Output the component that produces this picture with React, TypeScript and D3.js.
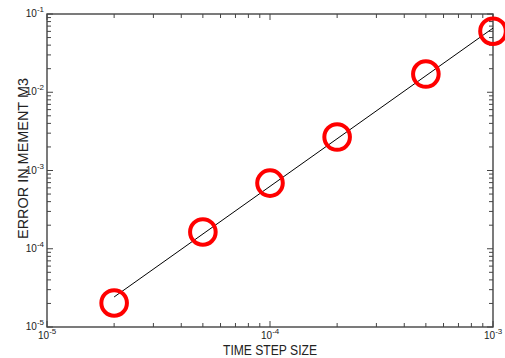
import React from 'react';
import * as d3 from 'd3';

const stepSizes = [2e-5, 5e-5, 1e-4, 2e-4, 5e-4, 1e-3];
const errors = [2.03e-5, 1.64e-4, 6.9e-4, 2.68e-3, 1.71e-2, 6.03e-2];
const fitX = [2e-5, 1e-3];
const fitY = [2.42e-5, 6.6e-2];
const xDecades = [-5, -4, -3];
const yDecades = [-5, -4, -3, -2, -1];

const W = 505, H = 358;
const left = 47, right = 493, top = 14, bottom = 327;

const App: React.FC = () => {
    const x = d3.scaleLog().domain([1e-5, 1e-3]).range([left, right]);
    const y = d3.scaleLog().domain([1e-5, 1e-1]).range([bottom, top]);

    const isMajor = (v: number) => Math.abs(Math.log10(v) - Math.round(Math.log10(v))) < 1e-6;
    const xTicks = x.ticks();
    const yTicks = y.ticks();

    const line = d3.line<number>()
        .x((_, i) => x(fitX[i]))
        .y(d => y(d));

    const font = 'Liberation Sans, Arial, Helvetica, sans-serif';
    const axisColor = '#444';

    return (
        <svg width={W} height={H} style={{ position: 'absolute', left: 0, top: 0 }} fontFamily={font}>
            <rect x={0} y={0} width={W} height={H} fill="white" />
            {/* x ticks, bottom and top */}
            {xTicks.map((t, i) => {
                const len = isMajor(t) ? 6 : 4;
                return (
                    <g key={'xt' + i} stroke={axisColor} strokeWidth={1}>
                        <line x1={x(t)} x2={x(t)} y1={bottom} y2={bottom - len} />
                        <line x1={x(t)} x2={x(t)} y1={top} y2={top + len} />
                    </g>
                );
            })}
            {yTicks.map((t, i) => {
                const len = isMajor(t) ? 6 : 4;
                return (
                    <g key={'yt' + i} stroke={axisColor} strokeWidth={1}>
                        <line x1={left} x2={left + len} y1={y(t)} y2={y(t)} />
                        <line x1={right} x2={right - len} y1={y(t)} y2={y(t)} />
                    </g>
                );
            })}
            <rect x={left} y={top} width={right - left} height={bottom - top}
                fill="none" stroke={axisColor} strokeWidth={1.4} />

            {/* tick labels */}
            {xDecades.map(d => (
                <text key={'xl' + d} x={x(Math.pow(10, d)) - 9} y={339} fontSize={10} fill="#222">
                    10<tspan fontSize={8} dy={-5}>{String(d)}</tspan>
                </text>
            ))}
            {yDecades.map(d => (
                <text key={'yl' + d} x={44} y={y(Math.pow(10, d)) + 3} fontSize={10} fill="#222" textAnchor="end">
                    10<tspan fontSize={8} dy={-5}>{String(d)}</tspan>
                </text>
            ))}

            {/* fit line */}
            <path d={line(fitY) || ''} fill="none" stroke="black" strokeWidth={1} />

            {/* markers */}
            {stepSizes.map((s, i) => (
                <circle key={'c' + i} cx={x(s)} cy={y(errors[i])} r={12.8}
                    fill="none" stroke="#ff0000" strokeWidth={4} />
            ))}

            {/* axis labels */}
            <text x={270} y={355} fontSize={14} textAnchor="middle" fill="#222"
                textLength={94} lengthAdjust="spacingAndGlyphs">TIME STEP SIZE</text>
            <text transform={`translate(28, 158.5) rotate(-90)`} fontSize={14} textAnchor="middle" fill="#222"
                textLength={161} lengthAdjust="spacingAndGlyphs">ERROR IN MEMENT M3</text>
        </svg>
    );
};

export default App;
